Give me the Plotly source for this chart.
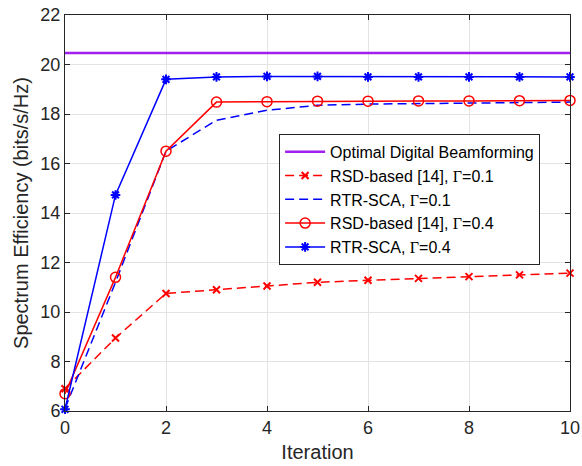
import plotly.graph_objects as go

iterations = [0, 1, 2, 3, 4, 5, 6, 7, 8, 9, 10]
optimal_value = 20.46
rsd_g01 = [6.9, 8.95, 10.75, 10.9, 11.05, 11.2, 11.28, 11.36, 11.43, 11.5, 11.57]
rtr_g01 = [6.1, 11.2, 16.5, 17.75, 18.15, 18.35, 18.4, 18.42, 18.45, 18.47, 18.48]
rsd_g04 = [6.7, 11.4, 16.5, 18.48, 18.5, 18.52, 18.52, 18.53, 18.53, 18.54, 18.55]
rtr_g04 = [6.07, 14.73, 19.4, 19.5, 19.52, 19.52, 19.5, 19.5, 19.5, 19.5, 19.5]

G = '<span style="font-family:Liberation Serif">Γ</span>'
labels = [
    "Optimal Digital Beamforming",
    f"RSD-based [14], {G}=0.1",
    f"RTR-SCA, {G}=0.1",
    f"RSD-based [14], {G}=0.4",
    f"RTR-SCA, {G}=0.4",
]

RED = "#ff0000"
BLUE = "#0000ff"
PURPLE = "#a020f0"
DARK = "#262626"
DASH = "9px,5px"

fig = go.Figure()
fig.add_trace(go.Scatter(x=[iterations[0], iterations[-1]], y=[optimal_value] * 2,
                         mode="lines", line=dict(color=PURPLE, width=2.5), name=labels[0]))
fig.add_trace(go.Scatter(x=iterations, y=rsd_g01, mode="lines+markers",
                         line=dict(color=RED, width=1.5, dash=DASH),
                         marker=dict(symbol="x-thin", size=7, line=dict(color=RED, width=2)),
                         name=labels[1], cliponaxis=False))
fig.add_trace(go.Scatter(x=iterations, y=rtr_g01, mode="lines",
                         line=dict(color=BLUE, width=1.5, dash=DASH), name=labels[2]))
fig.add_trace(go.Scatter(x=iterations, y=rsd_g04, mode="lines+markers",
                         line=dict(color=RED, width=1.5),
                         marker=dict(symbol="circle-open", size=10, color=RED, line=dict(width=1.5)),
                         name=labels[3], cliponaxis=False))
fig.add_trace(go.Scatter(x=iterations, y=rtr_g04, mode="lines+markers",
                         line=dict(color=BLUE, width=1.5),
                         marker=dict(symbol="asterisk-open", size=8, color=BLUE, line=dict(width=2)),
                         name=labels[4], cliponaxis=False))

axis_common = dict(
    showline=True, linecolor=DARK, linewidth=1, mirror="ticks",
    ticks="inside", ticklen=5, tickcolor=DARK,
    showgrid=True, gridcolor="#e3e3e3", gridwidth=1,
    zeroline=False, automargin=False,
    tickfont=dict(size=18, color=DARK),
)

fig.update_layout(
    width=582, height=466,
    margin=dict(l=65, r=12, t=15, b=55),
    paper_bgcolor="white", plot_bgcolor="white",
    font=dict(family="Liberation Sans, Arial, sans-serif", color=DARK),
    xaxis=dict(range=[0, 10], dtick=2,
               title=dict(text="Iteration", font=dict(size=20, color=DARK), standoff=8),
               **axis_common),
    yaxis=dict(range=[6, 22], dtick=2,
               title=dict(text="Spectrum Efficiency (bits/s/Hz)", font=dict(size=20, color=DARK), standoff=6),
               **axis_common),
    legend=dict(x=0.424, y=0.70, xanchor="left", yanchor="top",
                bgcolor="white", bordercolor=DARK, borderwidth=1,
                font=dict(size=16, color="#000000"),
                tracegroupgap=0, itemwidth=40),
    showlegend=True,
)

fig.write_html("out.html")
